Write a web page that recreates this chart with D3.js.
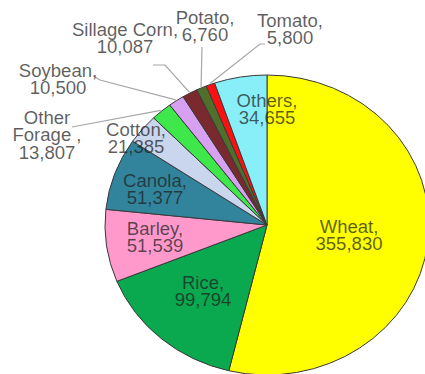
<!DOCTYPE html>
<html>
<head>
<meta charset="utf-8">
<script src="https://cdn.jsdelivr.net/npm/d3@7"></script>
<style>
  html, body { margin: 0; padding: 0; background: #fff; }
  svg { display: block; }
  text { font-family: "Liberation Sans", Arial, sans-serif; }
</style>
</head>
<body>
<div id="chart"></div>
<script>
const crops = ['Wheat', 'Rice', 'Barley', 'Canola', 'Cotton', 'Other Forage',
  'Soybean', 'Sillage Corn', 'Potato', 'Tomato', 'Others'];
const values = [355830, 99794, 51539, 51377, 21385, 13807, 10500, 10087, 6760, 5800, 34655];
const colors = ['#ffff00', '#0aa84f', '#ff99cc', '#31849b', '#c9d6ee', '#3fe84a',
  '#d8a0f0', '#7a2a2e', '#4f6f2a', '#ff1010', '#88eef8'];

// label lines (name may be split differently than in the data)
const labelLines = {
  'Other Forage': ['Other', 'Forage ,'],
  'Sillage Corn': ['Sillage Corn,']
};

const width = 425, height = 374;
const cx = 267, cy = 225;
const radius = 150;
const xStretch = 162 / 150; // the pie is a bit wider than tall

// where each label's first baseline sits, and leader line start points
const labelPos = {
  'Wheat':        { x: 349, y: 233 },
  'Rice':         { x: 203, y: 289 },
  'Barley':       { x: 155, y: 235 },
  'Canola':       { x: 155, y: 187 },
  'Cotton':       { x: 136, y: 136 },
  'Others':       { x: 267, y: 107 },
  'Other Forage': { x: 47,  y: 124, lead: [[72, 127]] },
  'Soybean':      { x: 58,  y: 77,  lead: [[95, 77], [100, 80]] },
  'Sillage Corn': { x: 125, y: 36,  lead: [[153, 65], [165, 65]] },
  'Potato':       { x: 205, y: 24,  lead: [[202, 47]] },
  'Tomato':       { x: 290, y: 27,  lead: [[265, 44], [260, 44]] }
};

const data = crops.map((c, i) => ({ name: c, value: values[i], color: colors[i] }));

const svg = d3.select('#chart')
  .append('svg')
  .attr('width', width)
  .attr('height', height);

const pie = d3.pie()
  .sort(null)
  .value(d => d.value);

const arcs = pie(data);

const arc = d3.arc()
  .innerRadius(0)
  .outerRadius(radius);

const pieG = svg.append('g')
  .attr('transform', `translate(${cx},${cy}) scale(${xStretch},1)`);

pieG.selectAll('path')
  .data(arcs)
  .join('path')
  .attr('d', arc)
  .attr('fill', d => d.data.color)
  .attr('stroke', '#3a3a3a')
  .attr('stroke-width', 1)
  .attr('vector-effect', 'non-scaling-stroke');

// point on the rim at the middle of a slice, in page coords
function rimPoint(d, r) {
  const a = (d.startAngle + d.endAngle) / 2;
  return [cx + Math.sin(a) * r * xStretch, cy - Math.cos(a) * r];
}

const line = d3.line();

svg.append('g')
  .selectAll('path')
  .data(arcs.filter(d => labelPos[d.data.name].lead))
  .join('path')
  .attr('d', d => line(labelPos[d.data.name].lead.concat([rimPoint(d, radius + 1)])))
  .attr('fill', 'none')
  .attr('stroke', '#a6a6a6')
  .attr('stroke-width', 1.2);

const fmt = d3.format(',');

const labels = svg.append('g')
  .selectAll('text')
  .data(arcs)
  .join('text')
  .attr('text-anchor', 'middle')
  .attr('font-size', 17.5)
  .attr('fill', '#1e1e1e')
  .attr('fill-opacity', 0.72)
  .attr('transform', d => {
    const p = labelPos[d.data.name];
    return `translate(${p.x},${p.y}) scale(1.06,1)`;
  });

labels.each(function(d) {
  const lines = (labelLines[d.data.name] || [d.data.name + ',']).concat([fmt(d.data.value)]);
  d3.select(this).selectAll('tspan')
    .data(lines)
    .join('tspan')
    .attr('x', 0)
    .attr('dy', (l, i) => i === 0 ? 0 : 17.5)
    .text(l => l);
});
</script>
</body>
</html>
